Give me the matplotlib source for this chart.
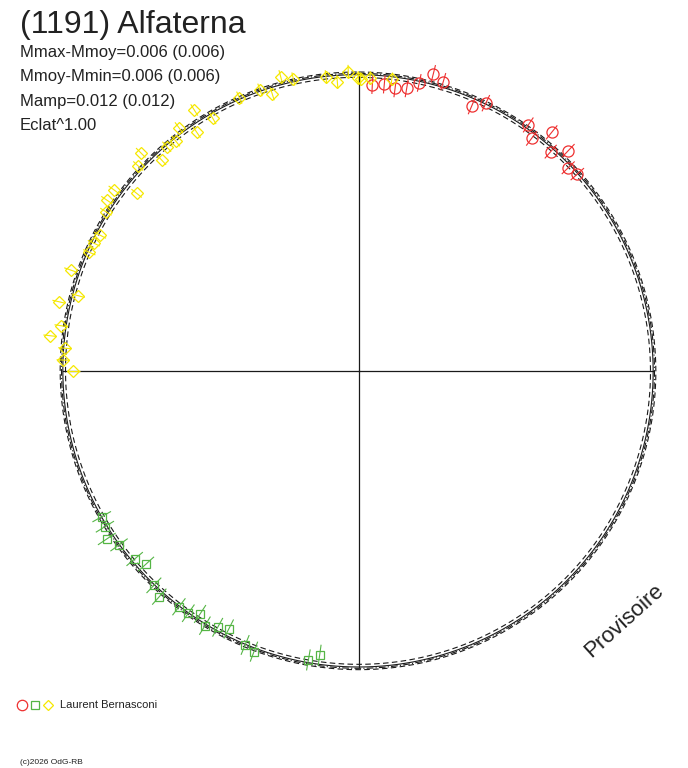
#!/usr/bin/env python3
"""
Polar light curve of (1191) Alfaterna: phase -> angle, magnitude -> radius
"""

import numpy as np
import matplotlib
matplotlib.use('Agg')
import matplotlib.pyplot as plt
from matplotlib.lines import Line2D

plt.rcParams['font.family'] = ['Liberation Sans', 'DejaVu Sans']

TITLE = '(1191) Alfaterna'
INFO_LINES = ['Mmax-Mmoy=0.006 (0.006)', 'Mmoy-Mmin=0.006 (0.006)',
              'Mamp=0.012 (0.012)', 'Eclat^1.00']
OBSERVER = 'Laurent Bernasconi'
COPYRIGHT = '(c)2026 OdG-RB'

# session 1 (red circles)
red_phase = [0.0074, 0.0140, 0.0202, 0.0266, 0.0328, 0.0390, 0.0451, 0.0640,
             0.0704, 0.0959, 0.1016, 0.1081, 0.1143, 0.1209, 0.1273, 0.1332]
red_dmag = [0.029, 0.025, 0.033, 0.028, 0.005, -0.031, -0.016, 0.024,
            -0.001, -0.008, 0.019, -0.032, 0.014, -0.024, 0.013, 0.006]
red_err = 0.027

# session 2 (green squares)
green_phase = [0.6680, 0.6625, 0.6565, 0.6502, 0.6390, 0.6328, 0.6215, 0.6153,
               0.6038, 0.5977, 0.5922, 0.5866, 0.5802, 0.5744, 0.5627, 0.5570,
               0.5276, 0.5219]
green_dmag = [0.001, -0.006, -0.021, -0.001, 0.010, 0.026, -0.002, -0.016,
              -0.002, -0.001, 0.017, -0.005, 0.010, 0.021, -0.002, -0.011,
              0.008, 0.027]
green_err = 0.032

# session 3 (yellow diamonds)
yellow_phase = [0.7500, 0.7559, 0.7623, 0.7681, 0.7740, 0.7861, 0.7917, 0.8036,
                0.8160, 0.8215, 0.8269, 0.8394, 0.8448, 0.8513, 0.8573, 0.8691,
                0.8750, 0.8803, 0.8872, 0.8929, 0.8986, 0.9050, 0.9104, 0.9165,
                0.9343, 0.9461, 0.9517, 0.9586, 0.9648, 0.9822, 0.9881, 0.9943,
                0.9996, 0.0009, 0.0060, 0.0178]
yellow_dmag = [0.031, 0.000, 0.003, -0.045, -0.016, -0.036, 0.016, -0.029,
               0.004, 0.005, 0.011, -0.009, -0.026, -0.026, 0.034, -0.016,
               -0.038, 0.021, 0.002, 0.006, -0.020, 0.022, -0.038, 0.012,
               -0.007, -0.006, 0.017, -0.026, -0.010, 0.000, 0.018, -0.011,
               0.008, 0.012, 0.008, 0.007]
yellow_err = 0.020

# Fourier fit of the light curve (mag)
fit_c0 = 0.001
fit_a = [-0.0005, -0.0015]
fit_b = [0.0030, 0.0010]
fit_offsets = [0.0, 0.008, -0.008, -0.004]   # solid, dashed in/out, dash-dot

# radius scale
R0 = 296.0          # mean radius (px)
MAG_PER_PX = 0.003  # magnitude per pixel of radius
RLIM = 335.0


def to_r(dmag):
    return R0 - np.asarray(dmag) / MAG_PER_PX


def to_theta(phase):
    return 2 * np.pi * np.asarray(phase)


def fourier(phase):
    phase = np.asarray(phase)
    m = np.full_like(phase, fit_c0, dtype=float)
    for k, (a, b) in enumerate(zip(fit_a, fit_b), start=1):
        m += a * np.cos(2 * np.pi * k * phase) + b * np.sin(2 * np.pi * k * phase)
    return m


W, H = 688, 768
CX, CY = 359, 371   # centre, px from top-left

fig = plt.figure(figsize=(W / 100, H / 100), dpi=100)
ax = fig.add_axes([(CX - RLIM) / W, (H - CY - RLIM) / H, 2 * RLIM / W, 2 * RLIM / H],
                  projection='polar')
ax.set_theta_zero_location('N')
ax.set_theta_direction(-1)
ax.set_rlim(0, RLIM)
ax.grid(False)
ax.set_xticks([])
ax.set_yticks([])
ax.spines['polar'].set_visible(False)
ax.patch.set_visible(False)

line_col = '#1a1a1a'

# cross lines
for q in [0.0, 0.25, 0.5, 0.75]:
    th = to_theta(q)
    ax.plot([th, th], [0, to_r(fourier(q))], color=line_col, lw=0.9)

# fit curves
ph = np.linspace(0, 1, 1441)
styles = ['-', (0, (5, 3)), (0, (5, 3)), (0, (6, 2, 1, 2))]
for off, ls in zip(fit_offsets, styles):
    ax.plot(to_theta(ph), to_r(fourier(ph) + off), color=line_col, lw=0.8, ls=ls)

# data
series = [
    (red_phase, red_dmag, red_err, 'o', '#ee3030', 8),
    (green_phase, green_dmag, green_err, 's', '#55b545', 6),
    (yellow_phase, yellow_dmag, yellow_err, 'D', '#f5e800', 6),
]
for phase, dmag, err, mk, col, ms in series:
    ax.errorbar(to_theta(phase), to_r(dmag), yerr=err / MAG_PER_PX,
                fmt=mk, ms=ms, mfc='none', mec=col, mew=0.9,
                ecolor=col, elinewidth=0.8, capsize=0, clip_on=False)

# texts
def fx(x):
    return x / W


def fy(y):
    return 1 - y / H


txt_col = '#222222'
fig.text(fx(20), fy(33), TITLE, fontsize=23, color=txt_col, va='baseline')
for i, line in enumerate(INFO_LINES):
    fig.text(fx(20), fy(57 + 24.4 * i), line, fontsize=12, color=txt_col,
             va='baseline')

fig.text(fx(624), fy(621), 'Provisoire', fontsize=16, color=txt_col,
         rotation=42, ha='center', va='center', rotation_mode='anchor')

# observer legend
leg_marks = [(22, 'o', '#ee3030', 7.5), (35, 's', '#55b545', 5.5),
             (48, 'D', '#f5e800', 5.5)]
for x, mk, col, ms in leg_marks:
    fig.add_artist(Line2D([fx(x)], [fy(705)], marker=mk, ms=ms, mfc='none',
                          mec=col, mew=0.9, transform=fig.transFigure))
fig.text(fx(60), fy(705), OBSERVER, fontsize=8, color=txt_col, va='center')
fig.text(fx(20), fy(763), COPYRIGHT, fontsize=6, color=txt_col, va='center')

fig.savefig('out.png', dpi=100)
